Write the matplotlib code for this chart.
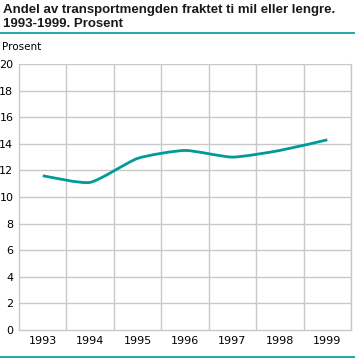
import matplotlib
matplotlib.use("Agg")
import matplotlib.pyplot as plt
from matplotlib.path import Path
from matplotlib.patches import PathPatch
from matplotlib.lines import Line2D
import numpy as np

years = ["1993", "1994", "1995", "1996", "1997", "1998", "1999"]
values = [11.6, 11.1, 12.9, 13.5, 13.0, 13.5, 14.3]
yticks = [0, 2, 4, 6, 8, 10, 12, 14, 16, 18, 20]

W, H = 355, 361
fig = plt.figure(figsize=(W / 100, H / 100), dpi=100)
fig.patch.set_facecolor("white")

ax = fig.add_axes([19 / W, 1 - 330 / H, (351 - 19) / W, (330 - 64) / H])
ax.set_xlim(-0.5, len(years) - 0.5)
ax.set_ylim(0, 20)

grid_c = "#c8c8c8"
for s in ax.spines.values():
    s.set_color(grid_c)
    s.set_linewidth(1)
ax.spines["top"].set_visible(False)
ax.set_yticks(yticks)
ax.set_yticklabels([str(v) for v in yticks])
ax.set_xticks(range(len(years)))
ax.set_xticklabels(years)
ax.tick_params(length=0, labelsize=8, colors="#000000", pad=4)
ax.tick_params(axis="y", pad=4)
for v in yticks[1:]:
    ax.axhline(v, color=grid_c, lw=1, zorder=1)
for i in range(1, len(years) + 1):
    ax.axvline(i - 0.5, color=grid_c, lw=1, zorder=1)

# smooth curve through the data (Catmull-Rom style cubic Bezier segments, low tension)
x = np.arange(len(values), dtype=float)
y = np.array(values, dtype=float)
verts = [(x[0], y[0])]
codes = [Path.MOVETO]
n = len(x)
t = 0.3 / 3
for i in range(n - 1):
    p0 = (x[max(i - 1, 0)], y[max(i - 1, 0)])
    p1 = (x[i], y[i])
    p2 = (x[i + 1], y[i + 1])
    p3 = (x[min(i + 2, n - 1)], y[min(i + 2, n - 1)])
    c1 = (p1[0] + (p2[0] - p0[0]) * t, p1[1] + (p2[1] - p0[1]) * t)
    c2 = (p2[0] - (p3[0] - p1[0]) * t, p2[1] - (p3[1] - p1[1]) * t)
    verts += [c1, c2, p2]
    codes += [Path.CURVE4] * 3
patch = PathPatch(Path(verts, codes), fill=False, edgecolor="#009a9a", lw=2, zorder=3)
ax.add_patch(patch)

fig.text(3 / W, 1 - 4 / H, "Andel av transportmengden fraktet ti mil eller lengre.\n1993-1999. Prosent",
         ha="left", va="top", fontsize=9.5, fontweight="bold", color="#1a1a1a",
         family="Liberation Sans", linespacing=1.18)
fig.add_artist(Line2D([0, 1], [1 - 32.5 / H, 1 - 32.5 / H], color="#009a9a", lw=1.2))
fig.text(2 / W, 1 - 47 / H, "Prosent", ha="left", va="center", fontsize=7.5, color="#000000")
fig.add_artist(Line2D([0, 1], [1 - 357 / H, 1 - 357 / H], color="#009a9a", lw=1.2))

fig.savefig("out.png", dpi=100)
